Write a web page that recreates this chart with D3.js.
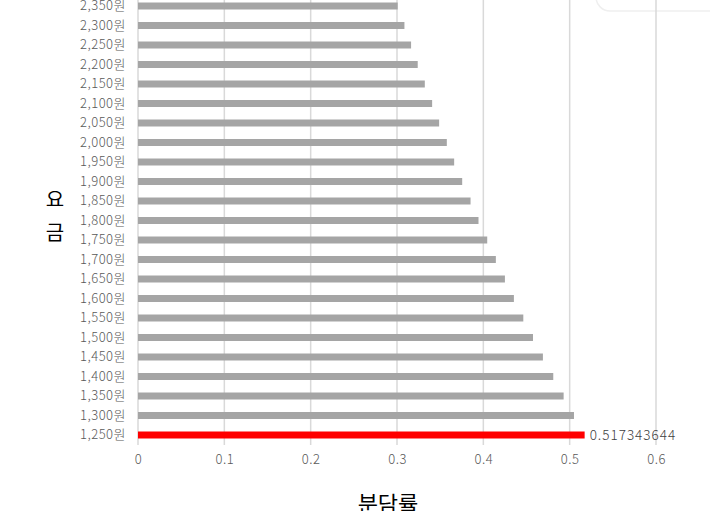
<!DOCTYPE html>
<html><head><meta charset="utf-8">
<script src="https://cdn.jsdelivr.net/npm/d3@7"></script>
<style>body{margin:0;background:#fff}svg{display:block}</style>
</head><body>
<svg id="c" width="710" height="511"></svg>
<script>
const categories = ["1,250원","1,300원","1,350원","1,400원","1,450원","1,500원","1,550원","1,600원","1,650원","1,700원","1,750원","1,800원","1,850원","1,900원","1,950원","2,000원","2,050원","2,100원","2,150원","2,200원","2,250원","2,300원","2,350원"];
const values = [0.517343644,0.505,0.493,0.481,0.469,0.4575,0.4463,0.4354,0.425,0.4145,0.4045,0.3944,0.3852,0.3755,0.3662,0.3577,0.3488,0.3407,0.3322,0.324,0.3163,0.3086,0.3008];
const xTicks = [0,0.1,0.2,0.3,0.4,0.5,0.6];
const highlightIndex = 0;
const labelText = "0.517343644";
const xTitle = "분담률";
const yTitle = ["요","금"];

const font = "'Noto Sans CJK KR','Noto Sans',sans-serif";
const svg = d3.select("#c");
const x = d3.scaleLinear().domain([0,0.6]).range([138,656]);
const y = d3.scaleBand().domain(categories).range([444.75,-3.75]).paddingInner(0).paddingOuter(0);
const barH = 7;

// legend box (cropped)
svg.append("rect").attr("x",596).attr("y",-40).attr("width",160).attr("height",51).attr("rx",14)
  .attr("fill","#fff").attr("stroke","#efefef").attr("stroke-width",1.5);

// gridlines
svg.append("g").selectAll("line").data(xTicks).join("line")
  .attr("x1",d=>x(d)).attr("x2",d=>x(d)).attr("y1",-5).attr("y2",445)
  .attr("stroke","#d9d9d9").attr("stroke-width",1.5);

// bars
svg.append("g").selectAll("rect").data(values).join("rect")
  .attr("x",x(0)).attr("y",(d,i)=>y(categories[i])+y.bandwidth()/2-barH/2)
  .attr("width",d=>x(d)-x(0)).attr("height",barH)
  .attr("fill",(d,i)=>i===highlightIndex?"#ff0000":"#a5a5a5");

// value label
svg.append("text").attr("x",x(values[highlightIndex])+5).attr("y",y(categories[highlightIndex])+y.bandwidth()/2)
  .attr("dy","0.35em").attr("font-family",font).attr("font-size",13.5).attr("letter-spacing","1px")
  .attr("font-weight",300).attr("fill","#404040").text(labelText);

// y axis labels
const yAxis = d3.axisLeft(y).tickSize(0).tickPadding(12);
const gy = svg.append("g").attr("transform",`translate(${x(0)},0)`).call(yAxis);
gy.select(".domain").remove();
gy.selectAll("text").attr("font-family",font).attr("font-size",13).attr("letter-spacing","0.5px")
  .attr("font-weight",300).attr("fill","#595959");

// x axis labels
const xAxis = d3.axisBottom(x).tickValues(xTicks).tickSize(0).tickPadding(10).tickFormat(d=>d===0?"0":d3.format(".1f")(d));
const gx = svg.append("g").attr("transform","translate(0,445)").call(xAxis);
gx.select(".domain").remove();
gx.selectAll("text").attr("font-family",font).attr("font-size",13).attr("letter-spacing","0.5px")
  .attr("font-weight",300).attr("fill","#595959");

// titles
svg.append("text").attr("x",388).attr("y",512).attr("text-anchor","middle")
  .attr("font-family",font).attr("font-size",22).attr("fill","#000").text(xTitle);
svg.append("text").attr("text-anchor","middle").attr("font-family",font).attr("font-size",20).attr("fill","#000")
  .selectAll("tspan").data(yTitle).join("tspan").attr("x",55).attr("y",(d,i)=>207+i*33).text(d=>d);
</script>
</body></html>
